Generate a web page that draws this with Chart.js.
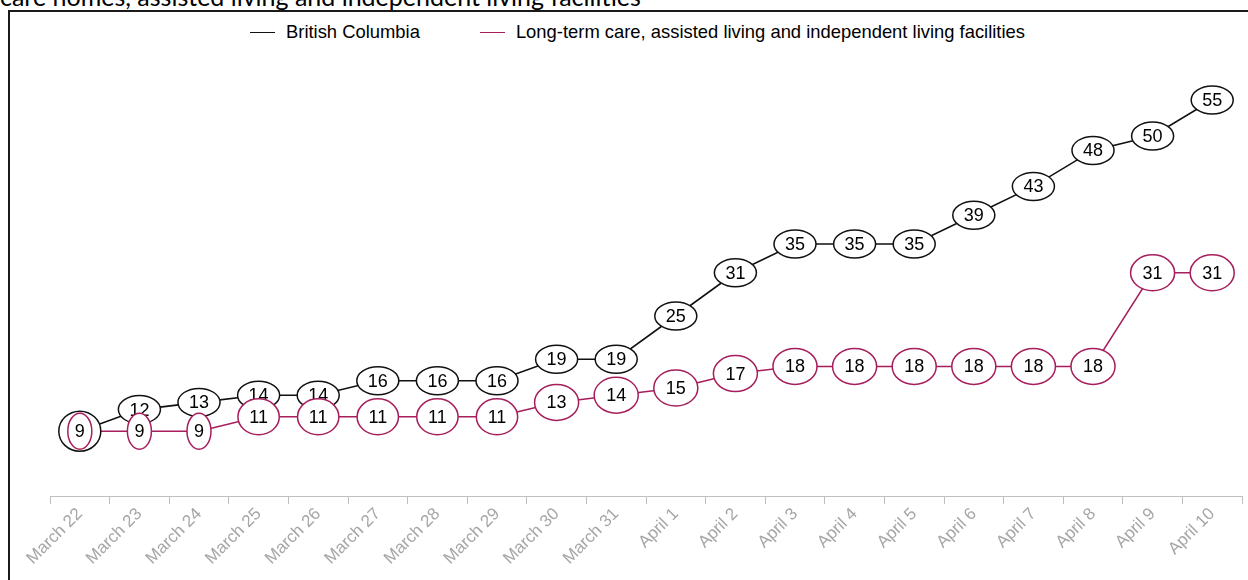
<!DOCTYPE html>
<html>
<head>
<meta charset="utf-8">
<script src="https://cdn.jsdelivr.net/npm/chart.js@4.4.1/dist/chart.umd.min.js"></script>
<style>
  html, body { margin: 0; padding: 0; background: #fff; overflow: hidden; }
  body { width: 1248px; height: 580px; position: relative; }
  #title { position: absolute; left: 0; top: -16px; font: 25px Lato, "Open Sans", sans-serif; line-height: 25px; color: #000; white-space: nowrap; }
  #frame { position: absolute; left: 8px; top: 10px; width: 1300px; height: 700px; border: 2px solid #1a1a1a; box-sizing: border-box; }
  #legend { position: absolute; left: 250px; top: 21px; display: flex; gap: 60px; font: 18.4px "Liberation Sans", Arial, sans-serif; color: #000; }
  #legend .item { display: flex; align-items: center; }
  #legend .swatch { width: 25px; height: 0; border-top: 1.5px solid; margin-right: 11px; }
  #chart { position: absolute; left: 0; top: 0; }
</style>
</head>
<body>
<div id="title">care homes, assisted living and independent living facilities</div>
<div id="frame"></div>
<div id="legend"></div>
<canvas id="chart" width="1248" height="580"></canvas>
<script>
const DAYS = ["March 22", "March 23", "March 24", "March 25", "March 26", "March 27", "March 28",
  "March 29", "March 30", "March 31", "April 1", "April 2", "April 3", "April 4", "April 5",
  "April 6", "April 7", "April 8", "April 9", "April 10"];
const BC = [9, 12, 13, 14, 14, 16, 16, 16, 19, 19, 25, 31, 35, 35, 35, 39, 43, 48, 50, 55];
const LTC = [9, 9, 9, 11, 11, 11, 11, 11, 13, 14, 15, 17, 18, 18, 18, 18, 18, 18, 31, 31];
const SERIES_NAMES = ["British Columbia", "Long-term care, assisted living and independent living facilities"];
const COLORS = ["#111111", "#a61e5b"];

const FONT = '"Liberation Sans", Arial, sans-serif';
Chart.defaults.font.family = FONT;

document.getElementById("legend").innerHTML = SERIES_NAMES.map((n, i) =>
  `<div class="item"><span class="swatch" style="border-color:${COLORS[i]}"></span>${n}</div>`).join("");

// value labels drawn as ellipses on top of the lines
const bubbles = {
  id: "bubbles",
  afterDatasetsDraw(chart) {
    const ctx = chart.ctx;
    ctx.save();
    ctx.font = "18px " + FONT;
    ctx.textAlign = "center";
    ctx.textBaseline = "middle";
    chart.data.datasets.forEach((ds, di) => {
      chart.getDatasetMeta(di).data.forEach((pt, i) => {
        const txt = String(ds.data[i]);
        const tw = ctx.measureText(txt).width;
        let rx, ry;
        if (di === 0) { rx = Math.max(tw + 1, 21); ry = txt.length === 1 ? 20 : 14; }
        else { rx = tw + 2; ry = 18; }
        ctx.beginPath();
        ctx.ellipse(pt.x, pt.y, rx, ry, 0, 0, Math.PI * 2);
        ctx.fillStyle = "#fff";
        ctx.fill();
        ctx.lineWidth = 1.5;
        ctx.strokeStyle = ds.borderColor;
        ctx.stroke();
        ctx.fillStyle = "#000";
        ctx.fillText(txt, pt.x, pt.y + 1);
      });
    });
    ctx.restore();
  }
};

new Chart(document.getElementById("chart"), {
  type: "line",
  data: {
    labels: DAYS,
    datasets: [
      { label: SERIES_NAMES[0], data: BC, borderColor: COLORS[0], borderWidth: 1.6, pointRadius: 0, tension: 0 },
      { label: SERIES_NAMES[1], data: LTC, borderColor: COLORS[1], borderWidth: 1.5, pointRadius: 0, tension: 0 },
    ]
  },
  options: {
    responsive: false, animation: false,
    layout: { padding: { left: 50, right: 6, top: 64, bottom: 0 } },
    scales: {
      x: {
        offset: true,
        grid: { offset: true, drawOnChartArea: false, drawTicks: true, tickLength: 8, color: "#bfbfbf" },
        border: { color: "#bfbfbf", width: 1 },
        ticks: { color: "#a6a6a6", font: { size: 17 }, minRotation: 45, maxRotation: 45, autoSkip: false, padding: 0 },
        afterFit: s => { s.height = 84; s.paddingLeft = 0; s.paddingRight = 0; },
      },
      y: { display: false, min: 0, max: 60 },
    },
    plugins: { legend: { display: false }, tooltip: { enabled: false } },
  },
  plugins: [bubbles],
});
</script>
</body>
</html>
